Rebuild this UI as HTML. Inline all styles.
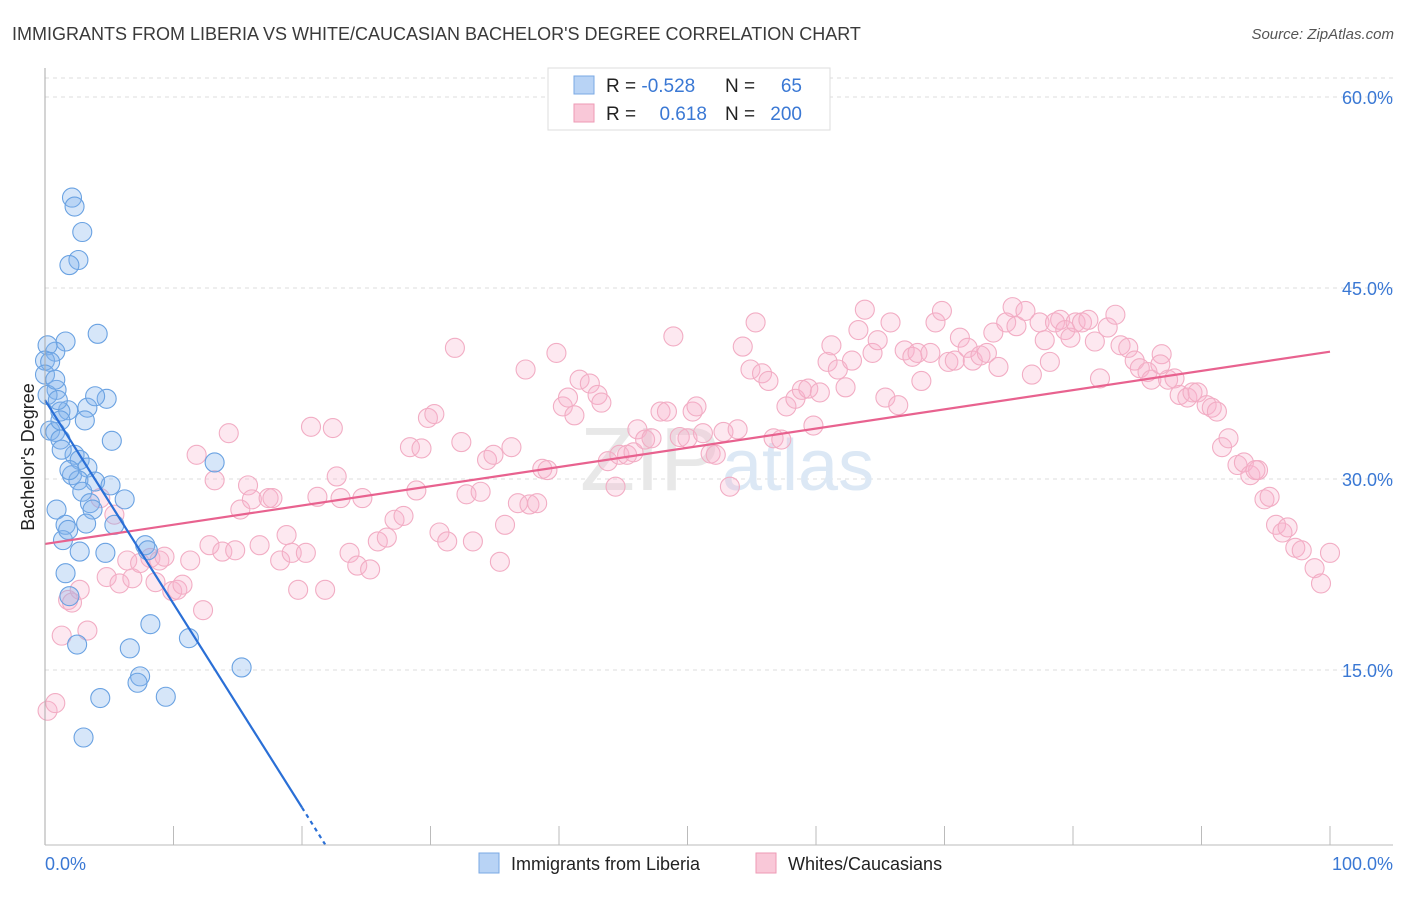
<!DOCTYPE html>
<html><head><meta charset="utf-8"><style>
body{margin:0;background:#fff;font-family:"Liberation Sans",sans-serif}
svg text{font-family:"Liberation Sans",sans-serif}
</style></head><body>
<svg id="chart" width="1406" height="892">
<text x="12" y="40" font-size="18" fill="#3a3a3a">IMMIGRANTS FROM LIBERIA VS WHITE/CAUCASIAN BACHELOR'S DEGREE CORRELATION CHART</text>
<text x="1394" y="39" font-size="15" fill="#555" font-style="italic" text-anchor="end">Source: ZipAtlas.com</text>
<g id="grid"></g>
<text x="720" y="490" font-size="90" fill="#e8e8e8" text-anchor="end" font-family="Liberation Serif">ZIP</text>
<text x="722" y="490" font-size="72" fill="#dce8f5">atlas</text>
<g id="pts"></g>
<g id="lines"></g>
<line x1="45" y1="68" x2="45" y2="845" stroke="#aaa"/>
<line x1="45" y1="845" x2="1393" y2="845" stroke="#bbb"/>
<text transform="translate(34,457) rotate(-90)" font-size="18" fill="#222" text-anchor="middle">Bachelor's Degree</text>
<text x="45" y="870" font-size="18" fill="#3a78d4">0.0%</text>
<text x="1393" y="870" font-size="18" fill="#3a78d4" text-anchor="end">100.0%</text>
<g>
<rect x="548" y="68" width="282" height="62" fill="#fff" stroke="#ddd"/>
<rect x="574" y="76" width="20" height="18" fill="#b8d3f5" stroke="#7aa8e4"/>
<rect x="574" y="104" width="20" height="18" fill="#f9c8d8" stroke="#ee9ab5"/>
<text x="606" y="92" font-size="19" fill="#222">R = <tspan fill="#3a78d4">-0.528</tspan></text>
<text x="725" y="92" font-size="19" fill="#222">N = </text><text x="802" y="92" font-size="19" fill="#3a78d4" text-anchor="end">65</text>
<text x="606" y="120" font-size="19" fill="#222">R = </text><text x="707" y="120" font-size="19" fill="#3a78d4" text-anchor="end">0.618</text>
<text x="725" y="120" font-size="19" fill="#222">N = </text><text x="802" y="120" font-size="19" fill="#3a78d4" text-anchor="end">200</text>
</g>
<g>
<rect x="479" y="853" width="20" height="20" fill="#b8d3f5" stroke="#7aa8e4"/>
<text x="511" y="870" font-size="18" fill="#222">Immigrants from Liberia</text>
<rect x="756" y="853" width="20" height="20" fill="#f9c8d8" stroke="#ee9ab5"/>
<text x="788" y="870" font-size="18" fill="#222">Whites/Caucasians</text>
</g>
</svg>
<script>
const yTicks=[15,30,45,60];
const yTickLabels=["15.0%","30.0%","45.0%","60.0%"];
const xTicks=[0,10,20,30,40,50,60,70,80,90,100];
const blueX=[2.1,2.3,2.9,2.6,1.9,4.1,1.6,0.8,0.2,0,0.4,0.9,0.2,1.8,1.2,3.3,4.8,3.9,0.4,0.8,1.2,2.3,2.7,3.3,2.1,2.6,3.9,5.1,2.9,6.2,3.5,3.7,5.4,0.9,1.6,3.2,1.4,4.7,2.7,7.8,8.0,1.6,1.9,8.2,11.2,6.6,2.5,7.4,7.2,4.3,9.4,15.3,13.2,3.0,5.2,0,1.2,1.9,3.1,1.0,0.8,1.3,1.8];
const blueY=[52.1,51.4,49.4,47.2,46.8,41.4,40.8,40.0,40.5,39.3,39.2,37.0,36.6,35.4,35.3,35.6,36.3,36.5,33.8,33.7,33.1,31.9,31.5,30.9,30.3,29.9,29.8,29.5,29.0,28.4,28.1,27.6,26.4,27.6,26.4,26.5,25.2,24.2,24.3,24.8,24.4,22.6,20.8,18.6,17.5,16.7,17.0,14.5,14.0,12.8,12.9,15.2,31.3,9.7,33.0,38.2,34.6,30.7,34.6,36.2,37.8,32.3,26.0];
const pinkX=[0.2,0.8,1.3,3.3,1.8,2.1,2.7,4.3,4.8,5.4,5.8,6.4,6.8,7.4,8.2,8.6,8.9,9.3,9.9,10.3,10.7,11.3,11.8,12.3,12.8,13.2,13.8,14.3,14.8,15.2,15.8,16.1,16.7,17.4,17.7,18.3,18.8,19.2,19.7,20.3,20.7,21.2,21.8,22.4,22.7,23.0,23.7,24.3,24.7,25.3,25.9,26.6,27.2,27.9,28.4,28.9,29.3,29.8,30.3,30.7,31.3,31.9,32.4,32.8,33.3,33.9,34.4,34.9,35.4,35.8,36.3,36.8,37.4,37.7,38.3,38.7,39.1,39.8,40.3,40.7,41.2,41.6,42.4,43.0,43.3,43.8,44.4,44.7,45.3,45.8,46.1,46.7,47.2,47.9,48.4,48.9,49.4,50.0,50.4,50.7,51.2,51.8,52.2,52.8,53.3,53.9,54.3,54.9,55.3,55.8,56.3,56.7,57.3,57.7,58.4,58.9,59.4,59.8,60.3,60.9,61.2,61.7,62.3,62.8,63.3,63.8,64.4,64.8,65.4,65.8,66.4,66.9,67.5,67.9,68.2,68.9,69.3,69.8,70.3,70.8,71.2,71.8,72.2,72.8,73.3,73.8,74.2,74.8,75.3,75.6,76.3,76.8,77.4,77.8,78.2,78.6,79.0,79.4,79.8,80.2,80.7,81.2,81.7,82.1,82.7,83.3,83.7,84.3,84.8,85.2,85.8,86.1,86.9,87.4,87.9,88.3,88.9,89.3,89.7,90.4,90.8,91.2,91.6,92.1,92.8,93.3,93.8,94.4,94.9,95.3,95.8,96.3,96.7,97.3,97.8,98.8,99.3,100.0,94.2,86.8];
const pinkY=[11.8,12.4,17.7,18.1,20.5,20.3,21.3,28.5,22.3,27.2,21.8,23.6,22.2,23.4,23.8,21.9,23.6,23.9,21.2,21.3,21.7,23.6,31.9,19.7,24.8,29.9,24.3,33.6,24.4,27.6,29.5,28.4,24.8,28.5,28.5,23.6,25.6,24.2,21.3,24.2,34.1,28.6,21.3,34.0,30.2,28.5,24.2,23.2,28.5,22.9,25.1,25.4,26.8,27.1,32.5,29.1,32.4,34.8,35.1,25.8,25.1,40.3,32.9,28.8,25.1,29.0,31.5,31.9,23.5,26.4,32.5,28.1,38.6,28.0,28.1,30.8,30.7,39.9,35.7,36.4,35.0,37.8,37.5,36.6,36.0,31.4,29.4,31.9,31.9,32.1,33.9,33.1,33.2,35.3,35.3,41.2,33.3,33.2,35.3,35.7,33.6,32.0,31.9,33.7,29.4,33.9,40.4,38.6,42.3,38.3,37.7,33.2,33.1,35.7,36.3,37.0,37.1,34.2,36.8,39.2,40.5,38.6,37.2,39.3,41.7,43.3,39.9,40.9,36.4,42.3,35.8,40.1,39.6,39.9,37.7,39.9,42.3,43.2,39.2,39.3,41.1,40.3,39.3,39.7,39.9,41.5,38.8,42.3,43.5,42.0,43.2,38.2,42.3,40.9,39.2,42.3,42.5,41.7,41.1,42.3,42.3,42.5,40.8,37.9,41.9,42.9,40.5,40.3,39.3,38.7,38.4,37.8,39.8,37.8,37.9,36.6,36.4,36.8,36.8,35.8,35.6,35.3,32.5,33.2,31.1,31.3,30.3,30.7,28.4,28.6,26.4,25.8,26.2,24.6,24.4,23.0,21.8,24.2,30.7,39.0];
const blueTrend=[[0,36.2],[20,4.2]];
const blueTrendDash=[[20,4.2],[21.8,1.3]];
const pinkTrend=[[0,24.9],[100,40.0]];
const NS="http://www.w3.org/2000/svg";
const sx=v=>45+v*12.85, sy=v=>861-v*12.733;
const grid=document.getElementById('grid');
yTicks.forEach((t,i)=>{
 const l=document.createElementNS(NS,'line');
 l.setAttribute('x1',45);l.setAttribute('x2',1393);l.setAttribute('y1',sy(t));l.setAttribute('y2',sy(t));
 l.setAttribute('stroke','#ddd');l.setAttribute('stroke-dasharray','4,4');
 
 
 grid.appendChild(l);
 const tx=document.createElementNS(NS,'text');
 tx.setAttribute('x',1393);tx.setAttribute('y',sy(t)+7);tx.setAttribute('text-anchor','end');
 tx.setAttribute('font-size','18');tx.setAttribute('fill','#3a78d4');tx.textContent=yTickLabels[i];
 
 
 grid.appendChild(tx);
});
{const l=document.createElementNS(NS,'line');
 l.setAttribute('x1',45);l.setAttribute('x2',1393);l.setAttribute('y1',78);l.setAttribute('y2',78);
 l.setAttribute('stroke','#ddd');l.setAttribute('stroke-dasharray','4,4');
 
 
 grid.appendChild(l);}
xTicks.forEach(t=>{
 const l=document.createElementNS(NS,'line');
 l.setAttribute('x1',sx(t));l.setAttribute('x2',sx(t));l.setAttribute('y1',845);l.setAttribute('y2',t==0?845:826);
 l.setAttribute('stroke','#bbb');
 
 
 grid.appendChild(l);
});
const pts=document.getElementById('pts');
function dot(x,y,fill,stroke,name){
 const c=document.createElementNS(NS,'circle');
 c.setAttribute('cx',sx(x));c.setAttribute('cy',sy(y));c.setAttribute('r',9.5);
 c.setAttribute('fill',fill);c.setAttribute('stroke',stroke);c.setAttribute('stroke-width','1.1');
 
 
 pts.appendChild(c);
}
pinkX.forEach((x,i)=>dot(x,pinkY[i],'rgba(247,180,204,0.3)','#f2adc4','white-point'));
blueX.forEach((x,i)=>dot(x,blueY[i],'rgba(130,178,238,0.33)','#6aa2e2','liberia-point'));
const lines=document.getElementById('lines');
function line(p,color,dash,name){
 const l=document.createElementNS(NS,'line');
 l.setAttribute('x1',sx(p[0][0]));l.setAttribute('y1',sy(p[0][1]));
 l.setAttribute('x2',sx(p[1][0]));l.setAttribute('y2',sy(p[1][1]));
 l.setAttribute('stroke',color);l.setAttribute('stroke-width','2.2');
 if(dash)l.setAttribute('stroke-dasharray',dash);
 
 
 lines.appendChild(l);
}
line(pinkTrend,'#e8628f',null,'white-trendline');
line(blueTrend,'#2a6fd6',null,'liberia-trendline');
line(blueTrendDash,'#2a6fd6','4,4','liberia-trendline-extension');
</script>
</body></html>
